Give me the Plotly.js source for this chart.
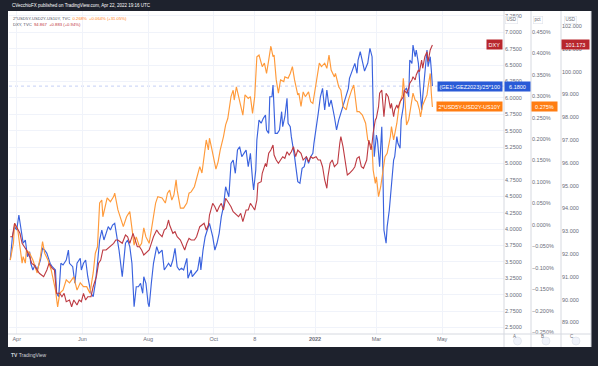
<!DOCTYPE html>
<html><head><meta charset="utf-8">
<script src="https://cdn.plot.ly/plotly-3.0.1.min.js"></script>
<style>html,body{margin:0;padding:0;background:#1e222d;overflow:hidden}#chart{width:598px;height:366px}</style>
</head><body><div id="chart"></div>
<script>
// (GE1!-GEZ2023)/25*100  -> axis A (USD)
const spreadDates = ['2021-03-26','2021-03-28','2021-03-30','2021-04-01','2021-04-03','2021-04-05','2021-04-07','2021-04-09','2021-04-11','2021-04-13','2021-04-14','2021-04-16','2021-04-18','2021-04-20','2021-04-23','2021-04-25','2021-04-27','2021-04-29','2021-05-02','2021-05-04','2021-05-07','2021-05-08','2021-05-10','2021-05-12','2021-05-14','2021-05-17','2021-05-19','2021-05-20','2021-05-23','2021-05-25','2021-05-27','2021-05-30','2021-05-31','2021-06-02','2021-06-04','2021-06-06','2021-06-09','2021-06-11','2021-06-13','2021-06-15','2021-06-17','2021-06-19','2021-06-21','2021-06-23','2021-06-25','2021-06-27','2021-06-29','2021-07-01','2021-07-03','2021-07-05','2021-07-08','2021-07-11','2021-07-13','2021-07-15','2021-07-17','2021-07-19','2021-07-21','2021-07-23','2021-07-25','2021-07-27','2021-07-28','2021-07-30','2021-08-01','2021-08-02','2021-08-04','2021-08-06','2021-08-09','2021-08-11','2021-08-14','2021-08-16','2021-08-18','2021-08-20','2021-08-22','2021-08-24','2021-08-26','2021-08-28','2021-08-30','2021-09-01','2021-09-03','2021-09-06','2021-09-07','2021-09-10','2021-09-11','2021-09-14','2021-09-16','2021-09-18','2021-09-19','2021-09-21','2021-09-23','2021-09-25','2021-09-27','2021-09-30','2021-10-02','2021-10-04','2021-10-06','2021-10-08','2021-10-10','2021-10-12','2021-10-15','2021-10-17','2021-10-19','2021-10-21','2021-10-23','2021-10-25','2021-10-27','2021-10-29','2021-10-31','2021-11-02','2021-11-04','2021-11-06','2021-11-07','2021-11-09','2021-11-10','2021-11-12','2021-11-14','2021-11-16','2021-11-18','2021-11-19','2021-11-21','2021-11-22','2021-11-24','2021-11-25','2021-11-27','2021-11-29','2021-12-01','2021-12-03','2021-12-04','2021-12-06','2021-12-08','2021-12-09','2021-12-11','2021-12-12','2021-12-14','2021-12-15','2021-12-18','2021-12-20','2021-12-22','2021-12-24','2021-12-26','2021-12-28','2021-12-30','2022-01-01','2022-01-02','2022-01-04','2022-01-06','2022-01-08','2022-01-10','2022-01-12','2022-01-14','2022-01-16','2022-01-18','2022-01-21','2022-01-23','2022-01-25','2022-01-27','2022-01-29','2022-02-01','2022-02-03','2022-02-04','2022-02-07','2022-02-09','2022-02-11','2022-02-12','2022-02-14','2022-02-18','2022-02-21','2022-02-23','2022-02-25','2022-02-26','2022-02-27','2022-03-01','2022-03-02','2022-03-04','2022-03-05','2022-03-06','2022-03-07','2022-03-08','2022-03-10','2022-03-11','2022-03-13','2022-03-15','2022-03-17','2022-03-18','2022-03-20','2022-03-21','2022-03-23','2022-03-24','2022-03-26','2022-03-27','2022-03-29','2022-03-31','2022-04-01','2022-04-03','2022-04-04','2022-04-06','2022-04-07','2022-04-09','2022-04-10','2022-04-12','2022-04-13','2022-04-15','2022-04-17','2022-04-18','2022-04-20','2022-04-21','2022-04-22'];
const spreadValues = [3.529,3.884,4.037,3.986,4.215,3.986,3.784,3.834,3.579,3.655,3.479,3.377,3.453,3.377,3.529,3.707,3.681,3.631,3.479,3.427,3.377,3.021,2.970,3.479,3.453,3.529,3.681,3.479,3.427,3.174,3.479,3.555,3.377,3.479,3.529,3.274,3.021,2.970,3.174,3.479,3.834,3.986,3.834,3.936,4.037,3.986,4.062,4.088,3.884,3.681,3.274,3.784,3.834,3.732,3.479,2.817,3.122,3.122,3.174,3.021,3.274,3.174,2.869,2.817,3.174,3.479,3.732,3.631,3.681,3.377,3.427,3.479,3.427,3.529,3.707,3.427,3.377,3.402,3.377,3.555,3.250,3.377,3.274,3.326,3.377,3.579,3.377,3.681,3.884,3.986,4.088,3.884,3.681,3.784,3.936,4.189,4.341,4.646,4.494,5.003,5.053,4.851,5.206,5.256,5.104,5.155,5.206,4.951,5.155,4.748,4.596,4.901,5.358,5.663,5.613,5.689,5.739,5.511,5.460,6.018,6.018,6.197,5.460,5.460,5.511,5.790,5.561,5.713,5.994,5.613,5.561,5.409,5.206,5.104,4.723,4.698,4.927,4.951,5.104,5.003,5.104,5.155,5.308,5.511,5.765,6.018,6.146,5.816,6.120,5.866,5.968,5.713,5.511,5.663,5.765,5.892,6.018,6.146,6.299,6.425,6.527,6.375,6.578,6.704,6.410,6.532,6.756,6.628,6.018,5.104,5.434,5.358,4.951,5.358,5.561,4.901,3.986,3.784,4.037,4.291,4.748,5.053,5.104,5.409,5.308,5.232,5.663,5.866,6.120,6.146,6.018,6.578,6.527,6.806,6.628,6.730,6.527,6.273,5.816,6.018,6.425,6.730,6.476,6.628,6.425,6.180];

// 2*USD5Y-USD2Y-US10Y (percent) -> axis B (pct)
const flyDates = ['2021-03-26','2021-03-29','2021-03-30','2021-04-02','2021-04-04','2021-04-06','2021-04-07','2021-04-09','2021-04-10','2021-04-13','2021-04-16','2021-04-20','2021-04-23','2021-04-25','2021-04-27','2021-04-30','2021-05-03','2021-05-07','2021-05-09','2021-05-11','2021-05-14','2021-05-17','2021-05-20','2021-05-24','2021-05-27','2021-05-30','2021-06-02','2021-06-05','2021-06-08','2021-06-11','2021-06-13','2021-06-15','2021-06-17','2021-06-19','2021-06-20','2021-06-24','2021-06-27','2021-06-30','2021-07-01','2021-07-04','2021-07-09','2021-07-12','2021-07-15','2021-07-18','2021-07-19','2021-07-21','2021-07-24','2021-07-26','2021-07-28','2021-07-30','2021-08-02','2021-08-04','2021-08-06','2021-08-08','2021-08-10','2021-08-14','2021-08-17','2021-08-19','2021-08-21','2021-08-23','2021-08-25','2021-08-27','2021-08-28','2021-08-31','2021-09-03','2021-09-06','2021-09-08','2021-09-10','2021-09-13','2021-09-16','2021-09-18','2021-09-20','2021-09-22','2021-09-24','2021-09-26','2021-09-27','2021-09-29','2021-10-01','2021-10-03','2021-10-05','2021-10-07','2021-10-10','2021-10-12','2021-10-14','2021-10-17','2021-10-19','2021-10-20','2021-10-22','2021-10-24','2021-10-26','2021-10-28','2021-10-30','2021-11-02','2021-11-04','2021-11-06','2021-11-08','2021-11-10','2021-11-12','2021-11-15','2021-11-17','2021-11-19','2021-11-21','2021-11-23','2021-11-25','2021-11-26','2021-11-28','2021-11-30','2021-12-02','2021-12-05','2021-12-06','2021-12-09','2021-12-11','2021-12-13','2021-12-15','2021-12-18','2021-12-19','2021-12-21','2021-12-23','2021-12-25','2021-12-28','2021-12-30','2022-01-01','2022-01-03','2022-01-05','2022-01-07','2022-01-09','2022-01-12','2022-01-14','2022-01-16','2022-01-18','2022-01-21','2022-01-22','2022-01-25','2022-01-27','2022-01-29','2022-02-01','2022-02-03','2022-02-06','2022-02-08','2022-02-11','2022-02-13','2022-02-16','2022-02-19','2022-02-21','2022-02-23','2022-02-25','2022-02-26','2022-02-28','2022-03-01','2022-03-03','2022-03-05','2022-03-07','2022-03-09','2022-03-11','2022-03-14','2022-03-15','2022-03-17','2022-03-20','2022-03-22','2022-03-25','2022-03-26','2022-03-27','2022-03-29','2022-03-31','2022-04-02','2022-04-04','2022-04-06','2022-04-08','2022-04-10','2022-04-11','2022-04-13','2022-04-15','2022-04-17','2022-04-18','2022-04-20','2022-04-21','2022-04-22'];
const flyValues = [-0.082,-0.042,0.004,-0.012,-0.051,-0.089,-0.074,-0.089,-0.059,-0.066,-0.082,-0.112,-0.074,-0.039,-0.066,-0.082,-0.105,-0.152,-0.191,-0.159,-0.152,-0.128,-0.135,-0.121,-0.152,-0.135,-0.144,-0.144,-0.159,-0.112,-0.066,-0.051,0.051,0.058,0.019,0.063,0.054,0.066,0.074,0.035,-0.004,0.019,0.031,-0.019,-0.047,-0.028,-0.051,-0.043,-0.007,-0.028,-0.043,-0.012,0.023,0.051,0.066,0.063,0.051,0.074,0.081,0.058,0.070,0.105,0.081,0.039,0.039,0.051,0.074,0.077,0.089,0.121,0.136,0.121,0.159,0.198,0.175,0.202,0.179,0.155,0.130,0.147,0.175,0.206,0.233,0.248,0.299,0.314,0.291,0.322,0.299,0.283,0.256,0.303,0.295,0.299,0.260,0.299,0.392,0.396,0.369,0.377,0.353,0.384,0.417,0.392,0.396,0.338,0.307,0.338,0.334,0.345,0.342,0.353,0.369,0.338,0.303,0.307,0.276,0.310,0.299,0.310,0.287,0.283,0.314,0.338,0.377,0.369,0.377,0.365,0.396,0.361,0.345,0.353,0.322,0.314,0.276,0.268,0.291,0.314,0.326,0.264,0.264,0.256,0.237,0.198,0.190,0.182,0.128,0.097,0.112,0.066,0.089,0.128,0.159,0.167,0.206,0.229,0.198,0.237,0.276,0.303,0.342,0.314,0.233,0.245,0.276,0.307,0.291,0.287,0.268,0.252,0.279,0.291,0.303,0.322,0.353,0.307,0.275];

// DXY -> axis C (USD)
const dxyDates = ['2021-03-26','2021-03-28','2021-03-30','2021-04-02','2021-04-04','2021-04-06','2021-04-08','2021-04-10','2021-04-13','2021-04-15','2021-04-17','2021-04-20','2021-04-22','2021-04-24','2021-04-26','2021-04-29','2021-05-01','2021-05-04','2021-05-06','2021-05-08','2021-05-11','2021-05-13','2021-05-15','2021-05-17','2021-05-20','2021-05-22','2021-05-24','2021-05-27','2021-05-29','2021-05-31','2021-06-02','2021-06-04','2021-06-06','2021-06-09','2021-06-11','2021-06-14','2021-06-16','2021-06-18','2021-06-20','2021-06-23','2021-06-25','2021-06-27','2021-06-30','2021-07-02','2021-07-04','2021-07-08','2021-07-11','2021-07-13','2021-07-15','2021-07-18','2021-07-20','2021-07-22','2021-07-24','2021-07-26','2021-07-28','2021-07-31','2021-08-02','2021-08-04','2021-08-06','2021-08-09','2021-08-11','2021-08-14','2021-08-16','2021-08-18','2021-08-20','2021-08-21','2021-08-24','2021-08-26','2021-08-28','2021-08-31','2021-09-02','2021-09-04','2021-09-06','2021-09-08','2021-09-10','2021-09-13','2021-09-15','2021-09-18','2021-09-20','2021-09-22','2021-09-24','2021-09-26','2021-09-27','2021-09-30','2021-10-02','2021-10-04','2021-10-06','2021-10-08','2021-10-10','2021-10-12','2021-10-15','2021-10-17','2021-10-19','2021-10-22','2021-10-24','2021-10-26','2021-10-28','2021-10-31','2021-11-02','2021-11-04','2021-11-06','2021-11-08','2021-11-10','2021-11-11','2021-11-14','2021-11-15','2021-11-18','2021-11-19','2021-11-21','2021-11-23','2021-11-25','2021-11-26','2021-11-28','2021-11-30','2021-12-02','2021-12-04','2021-12-06','2021-12-08','2021-12-10','2021-12-12','2021-12-14','2021-12-16','2021-12-18','2021-12-21','2021-12-23','2021-12-26','2021-12-28','2021-12-30','2022-01-01','2022-01-04','2022-01-06','2022-01-08','2022-01-10','2022-01-12','2022-01-14','2022-01-15','2022-01-17','2022-01-19','2022-01-21','2022-01-24','2022-01-26','2022-01-27','2022-01-29','2022-01-31','2022-02-02','2022-02-04','2022-02-07','2022-02-09','2022-02-11','2022-02-13','2022-02-15','2022-02-17','2022-02-20','2022-02-22','2022-02-24','2022-02-25','2022-02-26','2022-02-28','2022-03-01','2022-03-03','2022-03-04','2022-03-06','2022-03-07','2022-03-08','2022-03-10','2022-03-12','2022-03-14','2022-03-15','2022-03-17','2022-03-18','2022-03-20','2022-03-21','2022-03-23','2022-03-24','2022-03-26','2022-03-27','2022-03-29','2022-03-31','2022-04-01','2022-04-03','2022-04-04','2022-04-06','2022-04-07','2022-04-09','2022-04-10','2022-04-12','2022-04-13','2022-04-15','2022-04-17','2022-04-18','2022-04-20','2022-04-22'];
const dxyValues = [92.763,92.763,93.351,93.057,92.912,92.474,92.325,92.180,91.886,91.596,91.522,91.303,91.158,91.083,91.009,91.303,91.596,91.377,91.303,90.281,90.281,90.132,90.281,89.912,89.987,89.693,89.987,89.768,89.987,89.912,90.281,89.987,90.132,90.132,90.570,91.009,91.596,91.741,92.180,92.180,92.254,92.325,92.474,92.618,92.618,92.474,92.838,92.763,92.474,92.912,92.618,92.325,92.325,92.180,91.961,92.105,92.180,92.474,92.763,93.057,92.912,92.763,93.057,93.132,93.496,93.276,92.912,92.982,92.763,92.618,92.399,92.180,92.474,92.693,92.618,92.618,92.763,93.202,93.276,93.351,93.057,93.276,93.715,94.228,94.079,93.860,94.079,94.228,93.934,94.447,94.228,94.079,93.860,93.715,93.640,93.789,93.421,93.934,93.934,94.228,94.079,93.934,94.373,95.105,95.175,95.544,95.982,95.833,96.421,96.566,96.785,96.346,96.127,95.982,96.127,96.272,96.202,96.491,96.346,96.491,96.711,96.272,96.566,96.421,96.127,96.272,96.053,96.272,96.202,96.272,96.127,96.127,95.833,95.250,94.886,95.395,95.982,96.127,95.833,95.982,96.860,97.149,96.711,95.982,95.469,95.544,95.689,95.833,96.202,96.272,95.833,95.763,96.127,97.004,96.566,96.860,97.310,97.882,97.969,98.465,99.053,99.197,98.684,98.026,99.053,98.904,98.395,98.614,98.026,98.320,98.539,98.395,98.684,98.759,98.904,99.197,99.053,99.272,99.491,99.636,99.781,99.636,99.855,100.075,100.000,100.513,100.149,100.658,100.877,100.439,100.952,101.173];

const xTickDates = ['2021-04-01','2021-06-01','2021-08-01','2021-10-01','2021-11-08','2022-01-03','2022-03-01','2022-05-01'];
const xTickText = ['Apr','Jun','Aug','Oct','8','<b>2022</b>','Mar','May'];

const spreadName = '(GE1!-GEZ2023)/25*100';
const flyName = '2*USD5Y-USD2Y-US10Y';
const dxyName = 'DXY';

const W = 598, H = 366;
const px = v => v / W, py = v => 1 - v / H;
const BLUE = '#3a62de', ORANGE = '#ff9a3a', RED = '#bd3a42';
const TXT = '#6a6d78', FONT = 'Liberation Sans, Arial, sans-serif';
const lastSpread = spreadValues[spreadValues.length - 1];
const lastFly = flyValues[flyValues.length - 1];
const lastDxy = dxyValues[dxyValues.length - 1];

const traces = [
  {x: spreadDates, y: spreadValues, yaxis: 'y', type: 'scatter', mode: 'lines', line: {color: BLUE, width: 1.15}, hoverinfo: 'skip'},
  {x: flyDates, y: flyValues, yaxis: 'y2', type: 'scatter', mode: 'lines', line: {color: ORANGE, width: 1.15}, hoverinfo: 'skip'},
  {x: dxyDates, y: dxyValues, yaxis: 'y3', type: 'scatter', mode: 'lines', line: {color: RED, width: 1.1}, hoverinfo: 'skip'}
];

const tf = {family: FONT, size: 5.5, color: TXT};
const sepLine = (x0, y0, x1, y1) => ({type: 'line', xref: 'paper', yref: 'paper', x0: px(x0), x1: px(x1), y0: py(y0), y1: py(y1), line: {color: '#d6d9e0', width: 1}, layer: 'above'});

const layout = {
  width: W, height: H, margin: {l: 0, r: 0, t: 0, b: 0},
  paper_bgcolor: '#1e222d', plot_bgcolor: '#ffffff', showlegend: false,
  font: {family: FONT},
  xaxis: {type: 'date', domain: [px(9), px(504)], range: ['2021-03-24 20:00', '2022-06-27 12:00'],
    tickmode: 'array', tickvals: xTickDates, ticktext: xTickText, showgrid: true, gridcolor: '#f0f3fa', gridwidth: 1,
    zeroline: false, showline: false, ticks: '', tickfont: tf, fixedrange: true},
  yaxis: {domain: [py(334), py(11)], range: [2.401, 7.325], side: 'right', anchor: 'x', tick0: 0, dtick: 0.25, tickformat: '.4f',
    showgrid: true, gridcolor: '#f0f3fa', gridwidth: 1, zeroline: false, showline: false, ticks: '', tickfont: tf},
  yaxis2: {overlaying: 'y', side: 'right', anchor: 'free', position: px(531), range: [-0.2543, 0.4986], tick0: 0, dtick: 0.05,
    tickformat: '.3f', ticksuffix: '%', showgrid: false, zeroline: false, showline: false, ticks: '', tickfont: tf},
  yaxis3: {overlaying: 'y', side: 'right', anchor: 'free', position: px(561), range: [88.496, 102.662], tick0: 0, dtick: 1,
    tickformat: '.3f', showgrid: false, zeroline: false, showline: false, ticks: '', tickfont: tf},
  shapes: [
    {type: 'rect', xref: 'paper', yref: 'paper', x0: px(8), x1: px(591), y0: py(347), y1: py(11), fillcolor: '#ffffff', line: {width: 0}, layer: 'below'},
    {type: 'line', xref: 'paper', yref: 'y', x0: px(9), x1: px(504), y0: lastSpread, y1: lastSpread, line: {color: 'rgba(58,98,222,0.3)', width: 1, dash: 'dot'}, layer: 'below'},
    sepLine(8, 334, 591, 334),
    sepLine(504, 11, 504, 347),
    sepLine(531, 11, 531, 347),
    sepLine(561, 11, 561, 347),
    sepLine(591, 11, 591, 347),
    {type: 'circle', xref: 'paper', yref: 'paper', x0: px(513.5), x1: px(521.5), y0: py(345), y1: py(337), fillcolor: '#f0f3fa', line: {color: '#e0e3eb', width: 0.8}},
    {type: 'circle', xref: 'paper', yref: 'paper', x0: px(542), x1: px(550), y0: py(345), y1: py(337), fillcolor: '#f0f3fa', line: {color: '#e0e3eb', width: 0.8}},
    {type: 'circle', xref: 'paper', yref: 'paper', x0: px(572), x1: px(580), y0: py(345), y1: py(337), fillcolor: '#f0f3fa', line: {color: '#e0e3eb', width: 0.8}}
  ],
  annotations: [
    {xref: 'paper', yref: 'paper', x: px(10), y: py(5), xanchor: 'left', yanchor: 'middle', showarrow: false,
      text: 'CVecchioFX published on TradingView.com, Apr 22, 2022 19:16 UTC', font: {family: FONT, size: 4.5, color: '#ffffff'}},
    {xref: 'paper', yref: 'paper', x: px(11), y: py(18), xanchor: 'left', yanchor: 'middle', showarrow: false,
      text: flyName + ', TVC  <span style="color:#ff7d12">0.268%  +0.064% (+31.05%)</span>', font: {family: FONT, size: 4.2, color: '#50535e'}},
    {xref: 'paper', yref: 'paper', x: px(11), y: py(24.5), xanchor: 'left', yanchor: 'middle', showarrow: false,
      text: dxyName + ', TVC  <span style="color:#c0313a">94.867  +0.883 (+0.94%)</span>', font: {family: FONT, size: 4.2, color: '#50535e'}},
    {xref: 'paper', yref: 'paper', x: px(517.5), y: py(16), showarrow: false, text: 'USD', font: {family: FONT, size: 4.5, color: TXT}, bgcolor: '#ffffff', bordercolor: '#e0e3eb', borderwidth: 0.6, borderpad: 0.8},
    {xref: 'paper', yref: 'paper', x: px(543), y: py(16), showarrow: false, text: 'pct', font: {family: FONT, size: 4.5, color: TXT}, bgcolor: '#ffffff', bordercolor: '#e0e3eb', borderwidth: 0.6, borderpad: 0.8},
    {xref: 'paper', yref: 'paper', x: px(577), y: py(16), showarrow: false, text: 'USD', font: {family: FONT, size: 4.5, color: TXT}, bgcolor: '#ffffff', bordercolor: '#e0e3eb', borderwidth: 0.6, borderpad: 0.8},
    {xref: 'paper', yref: 'y3', x: px(503), y: lastDxy, xanchor: 'right', yanchor: 'middle', showarrow: false, text: dxyName,
      font: {family: FONT, size: 5.5, color: '#ffffff'}, bgcolor: '#b8262d', borderpad: 1.5},
    {xref: 'paper', yref: 'y3', x: px(575.5), y: lastDxy, xanchor: 'center', yanchor: 'middle', showarrow: false, text: lastDxy.toFixed(3),
      font: {family: FONT, size: 5.5, color: '#ffffff'}, bgcolor: '#b8262d', borderpad: 1.5, width: 24},
    {xref: 'paper', yref: 'y', x: px(503), y: lastSpread, xanchor: 'right', yanchor: 'middle', showarrow: false, text: spreadName,
      font: {family: FONT, size: 5.5, color: '#ffffff'}, bgcolor: '#2a5bd7', borderpad: 1.5},
    {xref: 'paper', yref: 'y', x: px(517.5), y: lastSpread, xanchor: 'center', yanchor: 'middle', showarrow: false, text: lastSpread.toFixed(4),
      font: {family: FONT, size: 5.5, color: '#ffffff'}, bgcolor: '#2a5bd7', borderpad: 1.5, width: 22},
    {xref: 'paper', yref: 'y2', x: px(503), y: lastFly, xanchor: 'right', yanchor: 'middle', showarrow: false, text: flyName,
      font: {family: FONT, size: 5.5, color: '#ffffff'}, bgcolor: '#ff7d12', borderpad: 1.5},
    {xref: 'paper', yref: 'y2', x: px(544), y: lastFly, xanchor: 'center', yanchor: 'middle', showarrow: false, text: lastFly.toFixed(3) + '%',
      font: {family: FONT, size: 5.5, color: '#ffffff'}, bgcolor: '#ff7d12', borderpad: 1.5, width: 22},
    {xref: 'paper', yref: 'paper', x: px(517.5), y: py(341), showarrow: false, text: 'A', font: {family: FONT, size: 4.5, color: TXT}},
    {xref: 'paper', yref: 'paper', x: px(546), y: py(341), showarrow: false, text: 'B', font: {family: FONT, size: 4.5, color: TXT}},
    {xref: 'paper', yref: 'paper', x: px(576), y: py(341), showarrow: false, text: 'C', font: {family: FONT, size: 4.5, color: TXT}},
    {xref: 'paper', yref: 'paper', x: px(9), y: py(355), xanchor: 'left', yanchor: 'middle', showarrow: false,
      text: '<b>TV</b> TradingView', font: {family: FONT, size: 5, color: '#d1d4dc'}}
  ]
};

Plotly.newPlot('chart', traces, layout, {staticPlot: true, displayModeBar: false});
</script>
</body></html>
